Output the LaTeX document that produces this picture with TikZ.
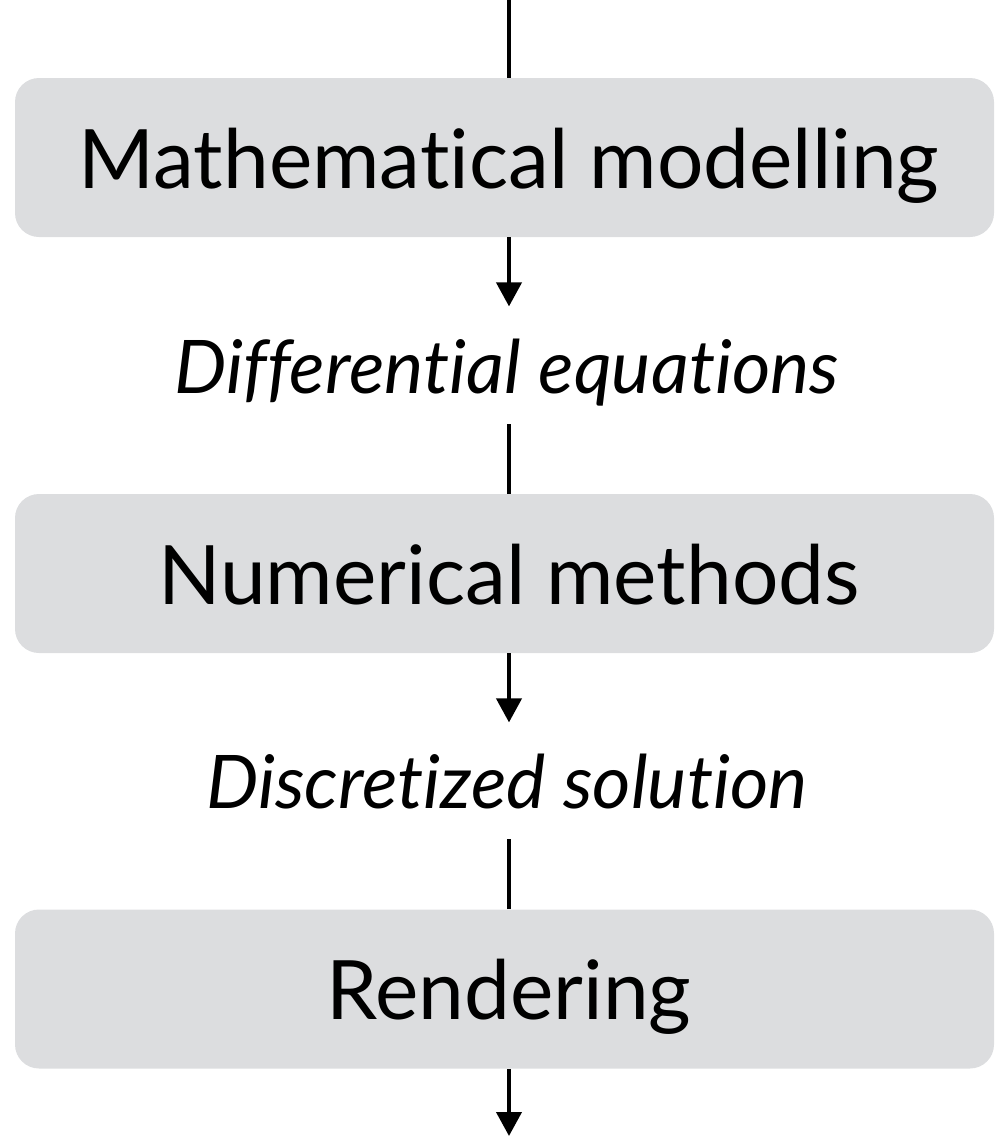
\documentclass[tikz,border=0pt]{standalone}
\usepackage{fontspec}
\setmainfont{Lato}[Ligatures={NoCommon,NoRare}]
\usetikzlibrary{positioning}
\usetikzlibrary{arrows.meta}
\definecolor{stagegray}{RGB}{220,221,223}
\tikzset{stage/.style={rectangle,rounded corners=12pt,fill=stagegray,draw=none,
inner sep=0pt,minimum height=79.5pt, minimum width=489.5pt,
text height=40pt, text depth=9.5pt,
execute at begin node=\hspace*{4.5pt},
font=\fontsize{41}{48}\selectfont}}
\tikzset{result/.style={rectangle,draw=none,inner sep=0pt,
font=\fontsize{37}{44}\selectfont\itshape}}
\tikzset{flow/.style={line width=2pt}}
\tikzset{flowarrow/.style={line width=2pt,-{Triangle[width=12.5pt,length=12pt]}}}

\begin{document}
\begin{tikzpicture}[x=0.5pt,y=-0.5pt]
    \useasboundingbox (0,0) rectangle (995,1136);

    \node[stage] (model) at (504.5,157.5) {Mathematical modelling};
    \node[stage] (numeric) at (504.5,573.5) {Numerical methods};
    \node[stage] (render) at (504.5,989) {Rendering};

    \node[result, anchor=base] (diffeq) at (507,393) {Differential equations};
    \node[result, anchor=base] (discrete) at (507,808) {Discretized solution};

    \coordinate (in) at (509,0);
    \coordinate (out) at (509,1136);

    \draw [flow] (in) -- ([xshift=2.25pt]model.north);
    \draw [flowarrow] ([xshift=2.25pt]model.south) -- ++(0,69);
    \draw [flow] ([xshift=2.25pt]numeric.north) -- ++(0,-70);
    \draw [flowarrow] ([xshift=2.25pt]numeric.south) -- ++(0,69);
    \draw [flow] ([xshift=2.25pt]render.north) -- ++(0,-70);
    \draw [flowarrow] ([xshift=2.25pt]render.south) -- (out);

\end{tikzpicture}
\end{document}
